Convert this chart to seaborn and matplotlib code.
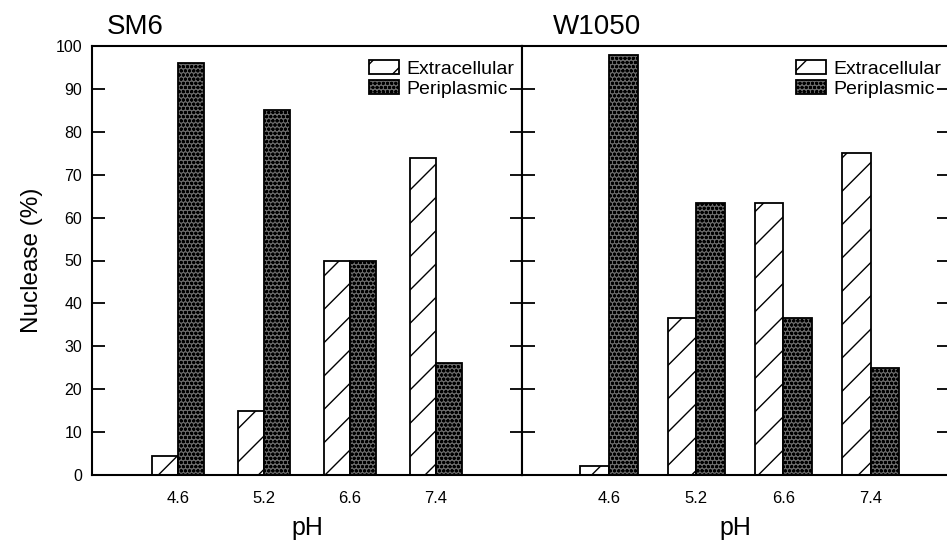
import matplotlib.pyplot as plt
import pandas as pd
import seaborn as sns

XTICKS_FONT_SIZE = 12
YTICKS_FONT_SIZE = 11.5
LEGEND_FONT_SIZE = 14
AXES_FONT_SIZE = 17.5
XLABEL_SIZE = 18
TITLE_SIZE = 20

sns.set_style("ticks")
plt.rcParams["font.family"] = ["Liberation Sans", "DejaVu Sans"]
plt.rc("font", size=AXES_FONT_SIZE)
plt.rc("text", color="black")
plt.rc("axes", labelsize=AXES_FONT_SIZE, linewidth=1.5, edgecolor="black",
       labelcolor="black")
plt.rc("xtick", labelsize=XTICKS_FONT_SIZE, color="black")
plt.rc("ytick", labelsize=YTICKS_FONT_SIZE, color="black")
plt.rc("legend", fontsize=LEGEND_FONT_SIZE)
plt.rc("hatch", linewidth=1.0)

# data
PH_LEVELS = ["4.6", "5.2", "6.6", "7.4"]
FRACTIONS = ["Extracellular", "Periplasmic"]

SM6_EXTRACELLULAR = [4.5, 15, 50, 74]
SM6_PERIPLASMIC = [96, 85, 50, 26]
W1050_EXTRACELLULAR = [2, 36.7, 63.3, 75]
W1050_PERIPLASMIC = [98, 63.3, 36.5, 25]

Y_TICKS = list(range(0, 101, 10))

HATCHES = ["/", "oooo"]
COLORS = ["white", "#2a2a2a"]
# light speckle on the dark periplasmic bars (only if this matplotlib can)
DOT_COLOR = "#c8c8c8"


def build_df(extra, peri):
    return pd.DataFrame(
        {
            "pH": PH_LEVELS * 2,
            "Nuclease": extra + peri,
            "Fraction": [FRACTIONS[0]] * len(extra) + [FRACTIONS[1]] * len(peri),
        }
    )


def draw_panel(ax, df, title, title_x, width, xmax):
    sns.barplot(
        data=df,
        x="pH",
        y="Nuclease",
        hue="Fraction",
        order=PH_LEVELS,
        hue_order=FRACTIONS,
        palette=COLORS,
        saturation=1,
        width=width,
        edgecolor="black",
        linewidth=1.3,
        legend=False,
        ax=ax,
    )
    for i, (container, hatch) in enumerate(zip(ax.containers, HATCHES)):
        for bar in container:
            bar.set_hatch(hatch)
            if i == 1:
                if hasattr(bar, "set_hatchcolor"):
                    bar.set_hatchcolor(DOT_COLOR)
                else:
                    bar.set_facecolor("#6a6a6a")

    ax.set_xlim(-1, xmax)
    ax.set_ylim(0, 100)
    ax.set_yticks(Y_TICKS)
    ax.set_xlabel("pH", labelpad=7, fontsize=XLABEL_SIZE)
    ax.set_ylabel("")
    for side in ["top", "right", "left", "bottom"]:
        ax.spines[side].set_visible(True)
    ax.tick_params(axis="x", length=0, pad=11.5)
    ax.tick_params(axis="y", direction="in", length=9, width=1.3,
                   left=True, right=True, pad=7)

    ax.legend(
        handles=ax.containers,
        labels=FRACTIONS,
        loc="upper right",
        bbox_to_anchor=(1.0, 0.986),
        frameon=False,
        handlelength=1.55,
        handleheight=0.72,
        handletextpad=0.36,
        labelspacing=0.13,
        borderaxespad=0.0,
    )
    ax.text(title_x, 1.028, title, transform=ax.transAxes,
            ha="left", va="baseline", fontsize=TITLE_SIZE)


fig = plt.figure(figsize=(9.47, 5.46), dpi=100)
ax_sm6 = fig.add_axes([92 / 947, 71 / 546, 430 / 947, 429 / 546])
ax_w1050 = fig.add_axes([522 / 947, 71 / 546, 427 / 947, 429 / 546])

draw_panel(ax_sm6, build_df(SM6_EXTRACELLULAR, SM6_PERIPLASMIC),
           "SM6", 0.035, 0.61, 4.0)
draw_panel(ax_w1050, build_df(W1050_EXTRACELLULAR, W1050_PERIPLASMIC),
           "W1050", 0.073, 0.66, 3.9)

ax_sm6.set_ylabel("Nuclease (%)", labelpad=9)
ax_w1050.tick_params(axis="y", labelleft=False)

fig.savefig("out.png", dpi=100)
